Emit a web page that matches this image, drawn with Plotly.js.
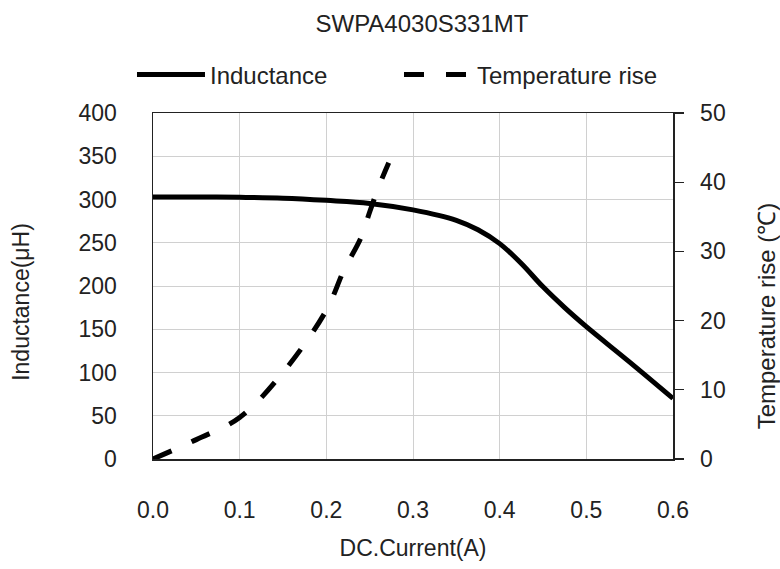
<!DOCTYPE html>
<html>
<head>
<meta charset="utf-8">
<script src="https://cdn.plot.ly/plotly-3.0.1.min.js"></script>
<style>html,body{margin:0;padding:0;background:#fff;}#chart{width:780px;height:569px;}</style>
</head>
<body>
<div id="chart"></div>
<script>
const chartTitle = "SWPA4030S331MT";
const currentInd = [0, 0.05, 0.1, 0.15, 0.2, 0.25, 0.3, 0.35, 0.375, 0.4, 0.425, 0.45, 0.475, 0.5, 0.55, 0.6];
const inductance = [303, 303, 302.5, 301.5, 299, 295.5, 288, 276, 265, 249, 226, 199, 175, 153, 112, 70];
const currentTemp = [0, 0.05, 0.1, 0.15, 0.2, 0.22, 0.24, 0.25, 0.26, 0.272];
const tempRise = [0, 2.8, 6, 12.5, 21.5, 27.2, 32.0, 35.7, 39.2, 42.8];
const seriesNames = ["Inductance", "Temperature rise"];
const xTickVals = [0, 0.1, 0.2, 0.3, 0.4, 0.5, 0.6];
const xTickText = ["0.0", "0.1", "0.2", "0.3", "0.4", "0.5", "0.6"];
const xTitle = "DC.Current(A)";
const yTitle = "Inductance(μH)";
const y2Title = "Temperature rise (℃)";

const FONT = "Liberation Sans, Arial, sans-serif";
const pad = n => "\u00a0".repeat(n) + "\u200d";

const traces = [
  {x: currentInd, y: inductance, name: seriesNames[0], type: "scatter", mode: "lines",
   line: {color: "#000", width: 5, shape: "spline", smoothing: 1}, yaxis: "y"},
  {x: currentTemp, y: tempRise, name: seriesNames[1], type: "scatter", mode: "lines",
   line: {color: "#000", width: 5, dash: "20px,22px", shape: "spline", smoothing: 1}, yaxis: "y2"}
];

const layout = {
  width: 780, height: 569,
  margin: {l: 153, r: 107, t: 113, b: 110},
  paper_bgcolor: "#fff", plot_bgcolor: "#fff",
  font: {family: FONT, size: 23, color: "#222"},
  title: {text: chartTitle, font: {family: FONT, size: 24, color: "#222"},
          x: 0.541, xref: "container", xanchor: "center", y: 1 - 24/569, yref: "container", yanchor: "middle"},
  showlegend: true,
  legend: {orientation: "h", x: -0.0404, xanchor: "left", y: 1.11, yanchor: "middle",
           itemwidth: 68,
           font: {family: FONT, size: 24, color: "#222"}, entrywidth: 184, entrywidthmode: "pixels",
           bgcolor: "rgba(0,0,0,0)"},
  xaxis: {range: [0, 0.6], tickmode: "array", tickvals: xTickVals, ticktext: xTickText,
          showgrid: true, gridcolor: "#d0d0d0", gridwidth: 1,
          showline: true, linecolor: "#222", linewidth: 1.5, mirror: true,
          ticks: "", ticklabelstandoff: 30, zeroline: false,
          title: {text: xTitle, font: {family: FONT, size: 23, color: "#222"}, standoff: 18}},
  yaxis: {range: [0, 400], dtick: 50, tick0: 0,
          showgrid: true, gridcolor: "#d0d0d0", gridwidth: 1,
          showline: true, linecolor: "#222", linewidth: 1.5,
          ticks: "", ticklabelstandoff: 30, zeroline: false,
          title: {text: yTitle + pad(5), font: {family: FONT, size: 23, color: "#222"}, standoff: 42}},
  yaxis2: {range: [0, 50], dtick: 10, tick0: 0, overlaying: "y", side: "right",
           showgrid: false, zeroline: false,
           showline: true, linecolor: "#222", linewidth: 1.5,
           ticks: "outside", ticklen: 9, tickwidth: 1.3, tickcolor: "#222", ticklabelstandoff: 12,
           title: {text: y2Title + pad(9), font: {family: FONT, size: 24, color: "#222"}, standoff: 33}}
};

Plotly.newPlot("chart", traces, layout, {displayModeBar: false, staticPlot: true});
</script>
</body>
</html>
